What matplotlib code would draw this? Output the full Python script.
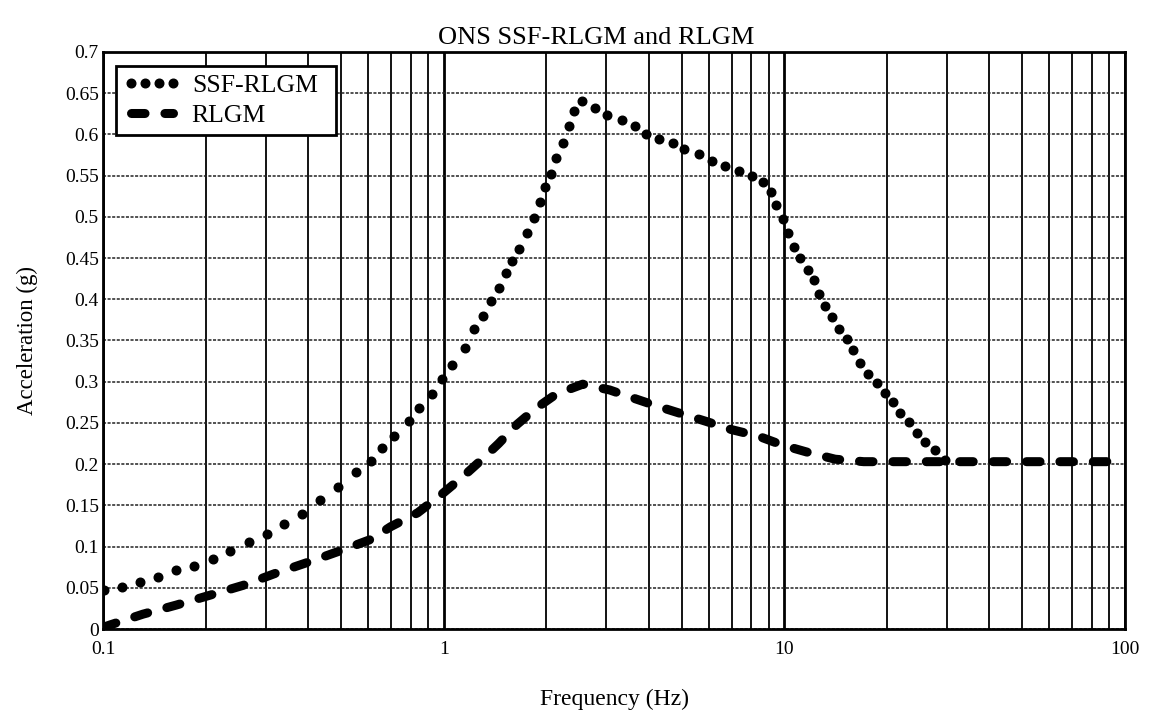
import matplotlib
matplotlib.use('Agg')
from matplotlib import pyplot as plt
from matplotlib.ticker import FixedLocator, FuncFormatter, NullFormatter
import numpy as np

plt.rcParams['font.family'] = ['Liberation Serif', 'DejaVu Serif']

# dots of the SSF-RLGM trace
ssf_freq = [0.1007, 0.1135, 0.1284, 0.1447, 0.1637, 0.1853, 0.2098, 0.2362,
            0.2675, 0.3021, 0.3402, 0.3851, 0.4329, 0.4898, 0.5546, 0.6138,
            0.6611, 0.7135, 0.7914, 0.8467, 0.9241, 0.9913, 1.058, 1.158,
            1.230, 1.302, 1.377, 1.453, 1.523, 1.586, 1.663, 1.760, 1.837,
            1.912, 1.979, 2.070, 2.141, 2.239, 2.331, 2.411, 2.552, 2.786,
            3.013, 3.327, 3.639, 3.938, 4.299, 4.703, 5.089, 5.607, 6.138,
            6.701, 7.345, 8.021, 8.678, 9.141, 9.455, 9.886, 10.23, 10.65,
            11.14, 11.71, 12.19, 12.61, 13.19, 13.76, 14.43, 15.23, 15.94,
            16.67, 17.63, 18.65, 19.74, 20.78, 21.89, 23.15, 24.50, 25.91,
            27.72, 29.60]
ssf_acc = [0.047, 0.051, 0.057, 0.063, 0.071, 0.077, 0.085, 0.095,
           0.105, 0.115, 0.127, 0.140, 0.157, 0.172, 0.190, 0.204,
           0.220, 0.234, 0.252, 0.268, 0.285, 0.303, 0.320, 0.341,
           0.364, 0.380, 0.398, 0.414, 0.432, 0.446, 0.461, 0.481, 0.499,
           0.518, 0.536, 0.552, 0.571, 0.589, 0.610, 0.628, 0.640, 0.632,
           0.624, 0.618, 0.610, 0.601, 0.595, 0.589, 0.582, 0.576, 0.568,
           0.562, 0.556, 0.550, 0.542, 0.530, 0.514, 0.498, 0.481, 0.463,
           0.450, 0.436, 0.423, 0.407, 0.392, 0.378, 0.364, 0.352, 0.338,
           0.323, 0.309, 0.298, 0.286, 0.275, 0.262, 0.251, 0.238, 0.227,
           0.217, 0.205]

# RLGM trace
rlgm_freq = [0.1, 0.105, 0.131, 0.164, 0.206, 0.258, 0.323, 0.400, 0.498,
             0.614, 0.698, 0.839, 0.984, 1.14, 1.29, 1.45, 1.64, 1.87, 2.14,
             2.56, 3.07, 3.61, 4.26, 5.00, 5.88, 6.98, 8.38, 9.89, 11.8,
             14.1, 17.1, 25.0, 40.0, 60.0, 100.0]
rlgm_acc = [0.002, 0.005, 0.018, 0.029, 0.041, 0.053, 0.068, 0.081, 0.095,
            0.109, 0.124, 0.141, 0.163, 0.185, 0.205, 0.225, 0.248, 0.268,
            0.285, 0.297, 0.290, 0.280, 0.270, 0.261, 0.252, 0.242, 0.234,
            0.223, 0.214, 0.206, 0.203, 0.203, 0.203, 0.203, 0.203]

fig = plt.figure(figsize=(11.49, 7.12), dpi=100)
ax = fig.add_axes([103 / 1149, 1 - 629 / 712, 1022 / 1149, 577 / 712])

ax.plot(ssf_freq, ssf_acc, linestyle='none', marker='o', markersize=6.2,
        color='black', label='SSF-RLGM', zorder=3)
ax.plot(rlgm_freq, rlgm_acc, color='black', linewidth=6.5,
        dashes=(1.5, 2.2), dash_capstyle='round', solid_capstyle='round',
        label='RLGM', zorder=3)

ax.set_xscale('log')
ax.set_xlim(0.1, 100)
ax.set_ylim(0, 0.7)

ax.xaxis.set_major_locator(FixedLocator([0.1, 1, 10, 100]))
ax.xaxis.set_major_formatter(FuncFormatter(lambda v, p: '%g' % v))
minor = [m * d for d in [0.1, 1, 10] for m in range(2, 10)]
ax.xaxis.set_minor_locator(FixedLocator(minor))
ax.xaxis.set_minor_formatter(NullFormatter())
ax.yaxis.set_major_locator(FixedLocator(np.arange(0, 0.701, 0.05)))
ax.yaxis.set_major_formatter(FuncFormatter(lambda v, p: '%g' % round(v, 2)))

ax.tick_params(which='both', length=0)
ax.tick_params(axis='x', labelsize=14, pad=9)
ax.tick_params(axis='y', labelsize=14, pad=3)

ax.grid(True, which='major', axis='x', color='black', linewidth=2.0)
ax.grid(True, which='minor', axis='x', color='black', linewidth=1.3)
ax.grid(True, which='major', axis='y', color='#222222', linewidth=1.1,
        linestyle=(0, (2, 1)))
ax.set_axisbelow(True)
for s in ax.spines.values():
    s.set_linewidth(2)

ax.set_title('ONS SSF-RLGM and RLGM', fontsize=19, pad=6, x=0.483)
ax.set_xlabel('Frequency (Hz)', fontsize=17, labelpad=22)
ax.set_ylabel('Acceleration (g)', fontsize=16.5, labelpad=19)

leg = ax.legend(loc='upper left', numpoints=4, fontsize=18.5, frameon=True,
                fancybox=False, edgecolor='black', framealpha=1,
                bbox_to_anchor=(0.0127, 0.9757, 0.2153, 0), mode='expand',
                borderaxespad=0, handlelength=2.2, handletextpad=0.45,
                borderpad=0.3, labelspacing=0.3)
leg.get_frame().set_linewidth(2)

fig.savefig('out.png', dpi=100)
